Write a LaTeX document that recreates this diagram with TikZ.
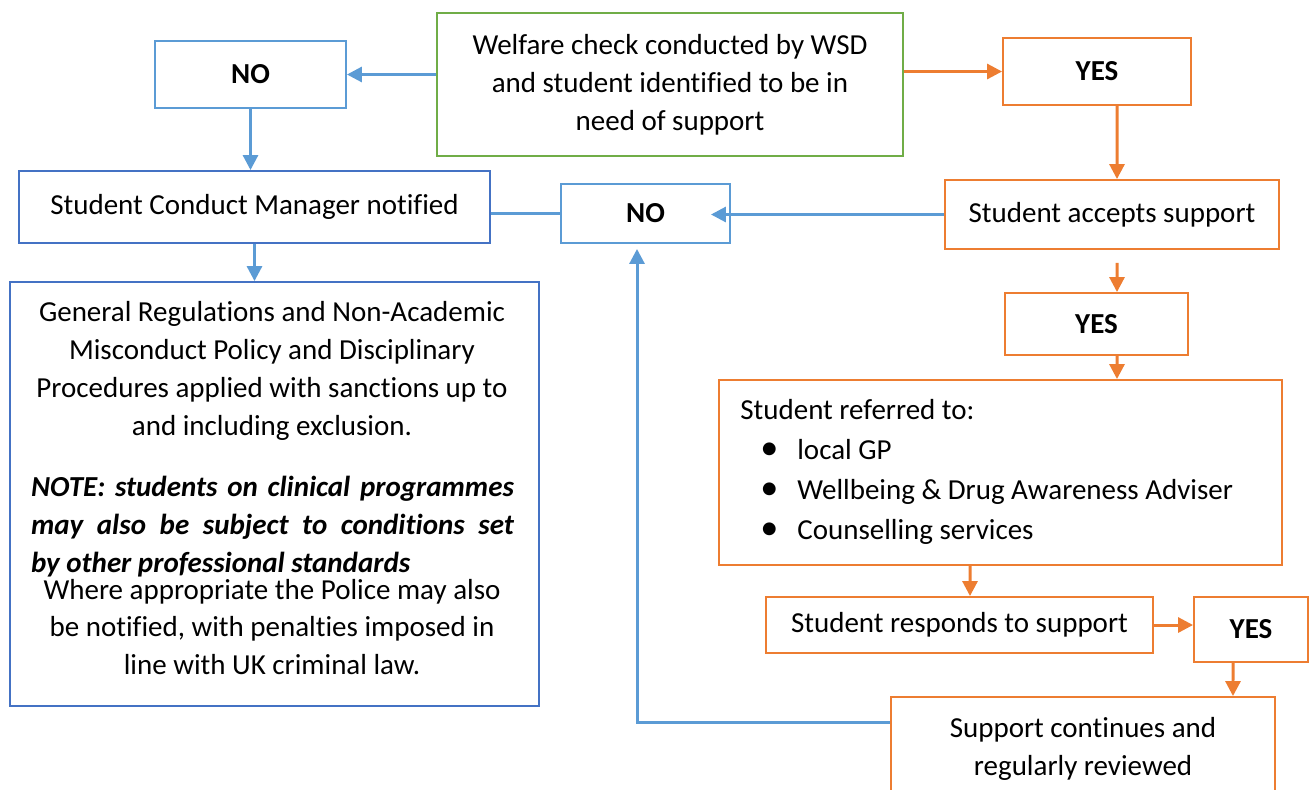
\documentclass[tikz,border=0pt]{standalone}
\usepackage{fontspec}
\setmainfont{Carlito}[Ligatures=NoCommon]
\usetikzlibrary{arrows.meta,positioning}
\definecolor{lblue}{RGB}{91,155,213}
\definecolor{dblue}{RGB}{68,114,196}
\definecolor{orng}{RGB}{237,125,49}
\definecolor{grn}{RGB}{112,173,71}
\newcommand{\flowfont}{\fontsize{16.5}{21.6}\selectfont}
\newcommand{\refitem}[1]{\makebox[1.14cm][l]{\hspace{0.4cm}\scalebox{1.25}{\textbullet}}#1}

\begin{document}
\begin{tikzpicture}[x=0.02cm, y=-0.02cm,
    box/.style={draw, line width=1.1pt, inner sep=0pt, align=center, font=\flowfont},
    gbox/.style={box, draw=grn},
    lbox/.style={box, draw=lblue},
    dbox/.style={box, draw=dblue},
    obox/.style={box, draw=orng},
    answer/.style={font=\flowfont\bfseries},
    larr/.style={draw=lblue, line width=1.7pt, -{Triangle[length=0.3cm,width=0.3cm]}},
    oarr/.style={draw=orng, line width=1.7pt, -{Triangle[length=0.3cm,width=0.3cm]}},
    lline/.style={draw=lblue, line width=1.7pt}]
    \useasboundingbox (0,0) rectangle (1314,789);
    \clip (0,0) rectangle (1314,789);

    \node[gbox, minimum width=9.32cm, minimum height=2.86cm] (welfare) at (670,84.5) {Welfare check conducted by WSD\\and student identified to be in\\need of support};
    \node[lbox, answer, minimum width=3.82cm, minimum height=1.34cm] (no1) at (250.5,74.5) {NO};
    \node[obox, answer, minimum width=3.76cm, minimum height=1.34cm] (yes1) at (1097,71.5) {YES};

    \node[dbox, minimum width=9.42cm, minimum height=1.44cm] (scm) at (254.5,207) {Student Conduct Manager notified};
    \node[lbox, answer, minimum width=3.38cm, minimum height=1.18cm] (no2) at (645.5,213.5) {NO};
    \node[obox, minimum width=6.68cm, minimum height=1.38cm] (accepts) at (1112,214.5) {Student accepts support};

    % left hand outcome
    \node[dbox, minimum width=10.58cm, minimum height=8.48cm] (general) at (274.5,494) {};
    \node[font=\flowfont, align=center] (gentext) at (272,371) {General Regulations and Non-Academic\\Misconduct Policy and Disciplinary\\Procedures applied with sanctions up to\\and including exclusion.};
    \node[font=\flowfont\bfseries\itshape, text width=9.66cm, align=justify] (note) at (272.5,527) {NOTE: students on clinical programmes may also be subject to conditions set\linebreak by other professional standards};
    \node[font=\flowfont, align=center] (police) at (272,627) {Where appropriate the Police may also\\be notified, with penalties imposed in\\line with UK criminal law.};

    % right hand support path
    \node[obox, answer, minimum width=3.66cm, minimum height=1.24cm] (yes2) at (1096.5,324) {YES};
    \node[obox, minimum width=11.26cm, minimum height=3.7cm] (referred) at (1000.5,472.5) {};
    \node[anchor=west, inner sep=0pt, align=left, font=\fontsize{16.5}{22.8}\selectfont] (reftext) at (740,472) {Student referred to:\\\refitem{local GP}\\\refitem{Wellbeing \& Drug Awareness Adviser}\\\refitem{Counselling services}};
    \node[obox, minimum width=7.74cm, minimum height=1.12cm] (responds) at (959.5,625) {Student responds to support};
    \node[obox, answer, minimum width=2.28cm, minimum height=1.3cm] (yes3) at (1251,629.5) {YES};
    \node[obox, minimum width=7.68cm, minimum height=2.06cm] (support) at (1083,748.5) {Support continues and\\regularly reviewed};

    \draw[larr] (no1.east -| welfare.west) -- (no1.east);
    \draw[oarr] (yes1.west -| welfare.east) -- (yes1.west);
    \draw[larr] (no1.south) -- (no1.south |- scm.north);
    \draw[larr] (scm.south) -- (scm.south |- general.north);
    \draw[oarr] ([xshift=0.4cm]yes1.south) -- ([xshift=0.1cm]accepts.north);
    \draw[larr, shorten >=-0.4cm] (accepts.west) -- (accepts.west -| no2.east);
    \draw[lline] (no2.west) -- (no2.west -| scm.east);
    \draw[oarr, shorten <=0.26cm] ([xshift=0.1cm]accepts.south) -- ([xshift=0.41cm]yes2.north);
    \draw[oarr] ([xshift=0.41cm]yes2.south) -- ([xshift=2.33cm]referred.north);
    \draw[oarr] ([xshift=-0.61cm]referred.south) -- ([xshift=0.21cm]responds.north);
    \draw[oarr] (responds.east) -- (responds.east -| yes3.west);
    \draw[oarr] ([xshift=-0.36cm]yes3.south) -- ([xshift=3cm]support.north);
    \draw[larr, shorten >=0.1cm] ([yshift=0.53cm]support.west) -| ([xshift=-0.17cm]no2.south);
\end{tikzpicture}
\end{document}
